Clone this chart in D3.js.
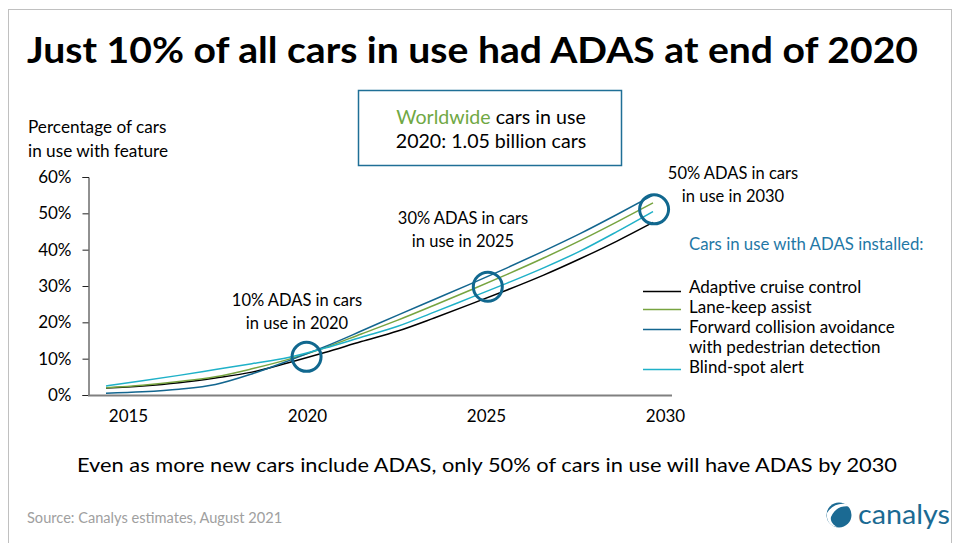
<!DOCTYPE html>
<html>
<head>
<meta charset="utf-8">
<script src="https://cdn.jsdelivr.net/npm/d3@7"></script>
<style>
  html, body { margin: 0; padding: 0; background: #fff; }
  svg { display: block; font-family: Lato, "Open Sans", sans-serif; }
</style>
</head>
<body>
<svg width="955" height="543"></svg>
<script>
// Dados (percentagem de carros em uso)
const years = d3.range(2015, 2031);
const seriesNames = [
    "Adaptive cruise control",
    "Lane-keep assist",
    "Forward collision avoidance with pedestrian detection",
    "Blind-spot alert"
];
const adaptiveCruise = [1.9, 2.5, 3.4, 4.7, 6.3, 8.9, 11.7, 14.7, 17.6, 21.2, 25.0, 28.9, 33.0, 37.5, 42.3, 47.5];
const laneKeep = [2.0, 2.7, 3.7, 5.0, 7.2, 9.8, 13.0, 16.8, 20.6, 24.7, 28.9, 33.2, 37.7, 42.5, 47.6, 52.9];
const forwardCollision = [0.5, 0.9, 1.6, 2.9, 5.8, 9.4, 13.3, 17.6, 22.0, 26.3, 30.6, 35.0, 39.6, 44.4, 49.6, 55.0];
const blindSpot = [2.5, 3.9, 5.4, 7.0, 8.6, 10.3, 12.9, 15.9, 18.9, 22.8, 26.8, 30.8, 35.0, 39.6, 44.9, 50.5];
const seriesColors = ["#000000", "#77a440", "#13668f", "#1fb1c8"];

const yTicks = [0, 10, 20, 30, 40, 50, 60];
const xTickLabels = ["2015", "2020", "2025", "2030"];

// Anotacoes (circulos + textos)
const markYears = [2020.5, 2025.47, 2030.03];
const markValues = [10.5, 29.8, 51.1];
const markTexts = [
    ["10% ADAS in cars", "in use in 2020"],
    ["30% ADAS in cars", "in use in 2025"],
    ["50% ADAS in cars", "in use in 2030"]
];

const svg = d3.select('svg');

// Moldura do slide
svg.append('rect')
    .attr('x', 8.5).attr('y', 9.5)
    .attr('width', 943).attr('height', 540)
    .attr('fill', 'none').attr('stroke', '#c0c0c0');

// Titulo
svg.append('text')
    .attr('x', 27).attr('y', 63)
    .attr('font-size', 36).attr('font-weight', 700)
    .attr('textLength', 891).attr('lengthAdjust', 'spacingAndGlyphs')
    .text('Just 10% of all cars in use had ADAS at end of 2020');

// Caixa "Worldwide"
svg.append('rect')
    .attr('x', 358.5).attr('y', 90.5)
    .attr('width', 263).attr('height', 75)
    .attr('fill', 'none').attr('stroke', '#1f6f96').attr('stroke-width', 1.5);

const boxText = svg.append('text')
    .attr('x', 491).attr('y', 124)
    .attr('text-anchor', 'middle').attr('font-size', 19.6);
boxText.append('tspan').attr('fill', '#70a844').text('Worldwide');
boxText.append('tspan').text(' cars in use');
svg.append('text')
    .attr('x', 491).attr('y', 148)
    .attr('text-anchor', 'middle').attr('font-size', 19.6)
    .text('2020: 1.05 billion cars');

// Titulo do eixo Y
svg.append('text').attr('x', 28).attr('y', 133).attr('font-size', 17.2).text('Percentage of cars');
svg.append('text').attr('x', 28).attr('y', 157).attr('font-size', 17.2).text('in use with feature');

// Escalas
const x = d3.scaleLinear().domain([2015, 2030]).range([106, 653]);
const y = d3.scaleLinear().domain([0, 60]).range([395, 177]);
const xLabel = d3.scalePoint().domain(xTickLabels).range([128, 665]);

// Eixo Y
const yAxis = d3.axisLeft(y)
    .tickValues(yTicks)
    .tickSize(6)
    .tickPadding(11)
    .tickFormat(d => d + '%');

const gy = svg.append('g')
    .attr('transform', 'translate(88.5,0)')
    .call(yAxis);
gy.select('.domain').attr('stroke', '#222');
gy.selectAll('.tick line').attr('stroke', '#222');
gy.selectAll('.tick text')
    .attr('font-size', 17).attr('font-family', 'Lato, sans-serif')
    .attr('fill', '#000');

// Eixo X (linha cinzenta + rotulos)
svg.append('line')
    .attr('x1', 88).attr('x2', 672)
    .attr('y1', 395.5).attr('y2', 395.5)
    .attr('stroke', '#808080').attr('stroke-width', 2);

const xAxis = d3.axisBottom(xLabel).tickSize(0).tickPadding(14);
const gx = svg.append('g')
    .attr('transform', 'translate(0,396)')
    .call(xAxis);
gx.select('.domain').remove();
gx.selectAll('.tick text')
    .attr('font-size', 17).attr('font-family', 'Lato, sans-serif')
    .attr('fill', '#000');

// Linhas
const allSeries = [adaptiveCruise, laneKeep, forwardCollision, blindSpot];
const line = d3.line()
    .x((d, i) => x(years[i]))
    .y(d => y(d))
    .curve(d3.curveMonotoneX);

svg.append('g')
    .selectAll('path')
    .data(allSeries)
    .enter()
    .append('path')
    .attr('d', d => line(d))
    .attr('fill', 'none')
    .attr('stroke', (d, i) => seriesColors[i])
    .attr('stroke-width', 1.5);

// Circulos de destaque
svg.append('g')
    .selectAll('circle')
    .data(markYears)
    .enter()
    .append('circle')
    .attr('cx', d => x(d))
    .attr('cy', (d, i) => y(markValues[i]))
    .attr('r', 14.5)
    .attr('fill', 'none')
    .attr('stroke', '#11688f')
    .attr('stroke-width', 3);

// Textos das anotacoes
const notePos = [[297, 306], [463, 224], [733, 179]];
markTexts.forEach((lines, i) => {
    lines.forEach((t, j) => {
        svg.append('text')
            .attr('x', notePos[i][0])
            .attr('y', notePos[i][1] + j * 23)
            .attr('text-anchor', 'middle')
            .attr('font-size', 16.5)
            .text(t);
    });
});

// Legenda
svg.append('text')
    .attr('x', 689).attr('y', 250)
    .attr('font-size', 16.8).attr('fill', '#1f78a6')
    .text('Cars in use with ADAS installed:');

const legendLabels = [
    ["Adaptive cruise control"],
    ["Lane-keep assist"],
    ["Forward collision avoidance", "with pedestrian detection"],
    ["Blind-spot alert"]
];
const legendLineY = [291, 309, 329, 369];
const legendTextY = [293, 313, 333, 373];

const legend = svg.append('g');
legend.selectAll('line')
    .data(seriesNames)
    .enter()
    .append('line')
    .attr('x1', 643).attr('x2', 681)
    .attr('y1', (d, i) => legendLineY[i] + 0.5)
    .attr('y2', (d, i) => legendLineY[i] + 0.5)
    .attr('stroke', (d, i) => seriesColors[i])
    .attr('stroke-width', 1.5);

legendLabels.forEach((lines, i) => {
    lines.forEach((t, j) => {
        legend.append('text')
            .attr('x', 689)
            .attr('y', legendTextY[i] + j * 20)
            .attr('font-size', 17)
            .text(t);
    });
});

// Rodape
svg.append('text')
    .attr('x', 77).attr('y', 472)
    .attr('font-size', 20)
    .attr('textLength', 820).attr('lengthAdjust', 'spacingAndGlyphs')
    .text('Even as more new cars include ADAS, only 50% of cars in use will have ADAS by 2030');

svg.append('text')
    .attr('x', 27).attr('y', 523)
    .attr('font-size', 14.6).attr('fill', '#a0a0a0')
    .text('Source: Canalys estimates, August 2021');

// Logo canalys
const logo = svg.append('g').attr('transform', 'translate(839,515)');
logo.append('circle').attr('r', 12.5).attr('fill', '#1b6a93');
logo.append('path')
    .attr('d', 'M -12 -2 C -6 -12, 6 -14, 13 -8 C 5 -10, -4 -8, -8 2 C -9 6, -6 10, -2 12 C -9 11, -13 6, -12 -2 Z')
    .attr('fill', '#fff');
svg.append('text')
    .attr('x', 858).attr('y', 524)
    .attr('font-size', 27).attr('fill', '#1b6a93')
    .attr('textLength', 92).attr('lengthAdjust', 'spacingAndGlyphs')
    .text('canalys');
</script>
</body>
</html>
